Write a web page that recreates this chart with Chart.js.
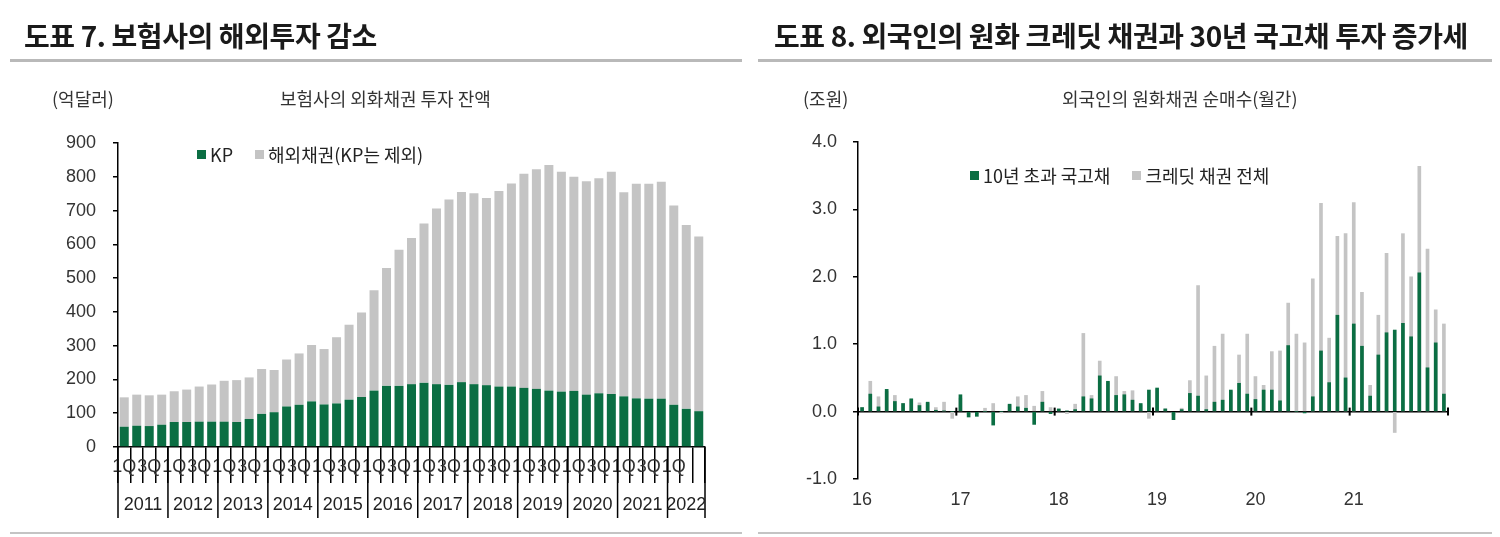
<!DOCTYPE html>
<html><head><meta charset="utf-8">
<script src="https://cdn.jsdelivr.net/npm/chart.js@4.4.0/dist/chart.umd.min.js"></script>
<style>
html,body{margin:0;padding:0;background:#fff;}
body{width:1500px;height:537px;position:relative;overflow:hidden;font-family:'Noto Sans CJK KR',sans-serif;color:#222;}
.title{position:absolute;top:15px;font-size:28px;font-weight:700;letter-spacing:-0.4px;white-space:nowrap;line-height:40px;color:#1a1a1a;z-index:2}
.hline{position:absolute;top:59px;height:3px;background:#b9b9b9;z-index:2}
.bline{position:absolute;top:532px;height:2px;background:#c4c4c4;z-index:2}
.unit,.sub{position:absolute;font-size:18px;color:#333;top:86px;line-height:24px;white-space:nowrap;z-index:2}
.legend{position:absolute;font-size:18px;color:#222;white-space:nowrap;display:flex;align-items:center;z-index:2;line-height:22px}
.sw{display:inline-block;width:9px;height:9px;margin-right:4px}
.item{display:flex;align-items:center;margin-right:22px}
.cv{position:absolute;top:0;width:750px;height:537px;z-index:1}
</style>
</head>
<body>
<div class="title" style="left:24px">도표 7. 보험사의 해외투자 감소</div>
<div class="hline" style="left:10px;width:732px"></div>
<div class="unit" style="left:52px">(억달러)</div>
<div class="sub" style="left:280px">보험사의 외화채권 투자 잔액</div>
<div class="legend" id="legL" style="left:197px;top:143px"></div>
<div class="bline" style="left:10px;width:732px"></div>

<div class="title" style="left:774px">도표 8. 외국인의 원화 크레딧 채권과 30년 국고채 투자 증가세</div>
<div class="hline" style="left:758px;width:734px"></div>
<div class="unit" style="left:803px">(조원)</div>
<div class="sub" style="left:1062px">외국인의 원화채권 순매수(월간)</div>
<div class="legend" id="legR" style="left:970px;top:164px"></div>
<div class="bline" style="left:758px;width:734px"></div>

<div class="cv" style="left:0"><canvas id="c1" width="750" height="537"></canvas></div>
<div class="cv" style="left:750px"><canvas id="c2" width="750" height="537"></canvas></div>

<script>
// ---------- Left chart data ----------
const yearLabelsL = ['2011','2012','2013','2014','2015','2016','2017','2018','2019','2020','2021','2022'];
const quartersPerYearL = [4,4,4,4,4,4,4,4,4,4,4,3];
const quarterNames = ['1Q','2Q','3Q','4Q'];
const seriesNamesL = ['KP','해외채권(KP는 제외)'];
const kpValues = [60,63,62,66, 74,74,75,75, 75,74,83,98, 103,120,125,135, 126,129,140,148, 167,181,181,186,
  190,186,184,192, 186,183,179,179, 175,172,167,164, 166,155,159,157, 150,144,143,143, 125,113,106];
const foreignBondValues = [87,92,91,89, 91,96,104,110, 121,124,123,133, 125,139,152,167, 164,196,222,250, 297,349,403,433,
  472,520,549,563, 565,554,579,601, 634,650,668,651, 634,632,637,658, 604,635,636,642, 590,544,517];
const yTicksL = {min:0, max:900, step:100};

// ---------- Right chart data ----------
const yearTicksR = ['16','17','18','19','20','21'];
const monthsPerYear = 12;
const seriesNamesR = ['10년 초과 국고채','크레딧 채권 전체'];
const govtBond10y = [
  0.06,0.26,0.07,0.33,0.15,0.12,0.19,0.09,0.14,0.02,0.01,0.00,
  0.25,-0.08,-0.07,0.00,-0.20,0.00,0.11,0.07,0.05,-0.19,0.14,-0.03,
  0.04,0.01,0.03,0.22,0.19,0.53,0.45,0.24,0.25,0.17,0.12,0.32,
  0.35,0.04,-0.12,0.03,0.27,0.23,0.03,0.14,0.17,0.32,0.42,0.26,
  0.18,0.32,0.32,0.16,0.98,0.00,-0.02,0.22,0.90,0.43,1.43,0.50,
  1.30,0.97,0.23,0.84,1.17,1.21,1.31,1.11,2.06,0.65,1.02,0.26];
const creditBondTotal = [
  0.06,0.45,0.22,0.30,0.24,0.12,0.18,0.13,0.12,0.06,0.14,-0.10,
  0.20,-0.04,-0.03,0.05,0.12,-0.02,0.10,0.22,0.24,0.08,0.30,0.06,
  0.03,-0.03,0.11,1.16,0.24,0.75,0.43,0.52,0.30,0.31,0.10,-0.10,
  0.33,0.04,-0.05,0.05,0.46,1.87,0.53,0.97,1.15,0.30,0.84,1.15,
  0.52,0.39,0.89,0.90,1.61,1.15,1.02,1.97,3.09,1.09,2.60,2.64,
  3.10,1.77,0.39,1.43,2.35,-0.31,2.64,2.00,3.64,2.41,1.51,1.30];
const yTicksR = {min:-1, max:4, step:1};

const GREEN = '#0b6e43';
const GRAY = '#c4c4c4';
const NUMFONT = "'Liberation Sans', Arial, 'Noto Sans CJK KR', sans-serif";

Chart.defaults.font.family = NUMFONT;
Chart.defaults.color = '#222';
Chart.defaults.animation = false;

// legends (HTML, real text)
function buildLegend(id, names, colors){
  const el = document.getElementById(id);
  names.forEach((n,i)=>{
    const it = document.createElement('span'); it.className='item';
    const sw = document.createElement('span'); sw.className='sw'; sw.style.background=colors[i];
    it.appendChild(sw); it.appendChild(document.createTextNode(n)); el.appendChild(it);
  });
}
buildLegend('legL', seriesNamesL, [GREEN, GRAY]);
buildLegend('legR', seriesNamesR, [GREEN, GRAY]);

// ---------- Left chart ----------
const categoriesL = [], qIdx = [], yIdx = [];
yearLabelsL.forEach((y, yi) => {
  for (let q = 0; q < quartersPerYearL[yi]; q++) { categoriesL.push(y + ' ' + quarterNames[q]); qIdx.push(q); yIdx.push(yi); }
});

const yearGroupPlugin = {
  id: 'yearGroups',
  afterDraw(chart) {
    const xs = chart.scales.x, ctx = chart.ctx;
    const n = categoriesL.length, w = (xs.right - xs.left) / n;
    const y0 = chart.chartArea.bottom;
    ctx.save();
    ctx.strokeStyle = '#000'; ctx.lineWidth = 1.5;
    ctx.fillStyle = '#222'; ctx.font = '18px ' + NUMFONT;
    ctx.textAlign = 'center'; ctx.textBaseline = 'middle';
    let start = 0;
    yearLabelsL.forEach((y, yi) => {
      const x0 = xs.left + start * w;
      const x1 = xs.left + (start + quartersPerYearL[yi]) * w;
      ctx.beginPath(); ctx.moveTo(x0, y0); ctx.lineTo(x0, y0 + 71); ctx.stroke();
      if (yi === yearLabelsL.length - 1) { ctx.beginPath(); ctx.moveTo(x1, y0); ctx.lineTo(x1, y0 + 71); ctx.stroke(); }
      ctx.fillText(y, (x0 + x1) / 2, y0 + 58);
      start += quartersPerYearL[yi];
    });
    ctx.restore();
  }
};

new Chart(document.getElementById('c1'), {
  type: 'bar',
  data: {
    labels: categoriesL,
    datasets: [
      { label: seriesNamesL[0], data: kpValues, backgroundColor: GREEN, barPercentage: 0.72, categoryPercentage: 1 },
      { label: seriesNamesL[1], data: foreignBondValues, backgroundColor: GRAY, barPercentage: 0.72, categoryPercentage: 1 }
    ]
  },
  options: {
    responsive: false,
    layout: { padding: { left: 18, right: 45, top: 143, bottom: 10 } },
    plugins: { legend: { display: false }, tooltip: { enabled: false } },
    scales: {
      x: {
        stacked: true, offset: true,
        grid: { display: true, offset: true, drawOnChartArea: false, drawTicks: true, tickLength: 36, color: '#000', lineWidth: 1.5 },
        border: { display: true, color: '#000', width: 1.5 },
        ticks: {
          autoSkip: false, maxRotation: 0, minRotation: 0, padding: -27,
          font: { size: 18 }, color: '#333',
          callback: (v, i) => {
            const q = qIdx[i]; const full = quartersPerYearL[yIdx[i]] === 4;
            return (q === 0 || (q === 2 && full)) ? quarterNames[q] : '';
          }
        },
        afterFit: s => { s.height = 80; }
      },
      y: {
        stacked: true, min: yTicksL.min, max: yTicksL.max,
        grid: { drawOnChartArea: false, drawTicks: true, tickLength: 5, color: '#000', lineWidth: 1.5 },
        border: { display: true, color: '#000', width: 1.5 },
        ticks: { stepSize: yTicksL.step, padding: 17, font: { size: 18 }, color: '#333' },
        afterFit: s => { s.width = 100; }
      }
    }
  },
  plugins: [yearGroupPlugin]
});

// ---------- Right chart ----------
const categoriesR = [];
yearTicksR.forEach(y => { for (let m = 1; m <= monthsPerYear; m++) categoriesR.push(y + '-' + String(m).padStart(2, '0')); });

const yearTickPlugin = {
  id: 'yearTicks',
  afterDraw(chart) {
    const xs = chart.scales.x, ys = chart.scales.y, ctx = chart.ctx;
    const n = categoriesR.length, w = (xs.right - xs.left) / n;
    const y0 = ys.getPixelForValue(0);
    ctx.save(); ctx.strokeStyle = '#000'; ctx.lineWidth = 2;
    for (let k = 0; k <= yearTicksR.length; k++) {
      const x = xs.left + k * monthsPerYear * w;
      ctx.beginPath(); ctx.moveTo(x, y0 - 4); ctx.lineTo(x, y0 + 4); ctx.stroke();
    }
    ctx.restore();
  }
};

new Chart(document.getElementById('c2'), {
  type: 'bar',
  data: {
    labels: categoriesR,
    datasets: [
      { label: seriesNamesR[0], data: govtBond10y, backgroundColor: GREEN, barThickness: 3, grouped: false, order: 0 },
      { label: seriesNamesR[1], data: creditBondTotal, backgroundColor: GRAY, barThickness: 3, grouped: false, order: 1 }
    ]
  },
  options: {
    responsive: false,
    layout: { padding: { left: 8, right: 52, top: 142, bottom: 10 } },
    plugins: { legend: { display: false }, tooltip: { enabled: false } },
    scales: {
      x: {
        offset: true,
        grid: { display: false, drawTicks: false },
        border: { display: false },
        ticks: {
          autoSkip: false, maxRotation: 0, minRotation: 0, padding: 10,
          font: { size: 18 }, color: '#333',
          callback: (v, i) => (i % monthsPerYear === 0) ? yearTicksR[i / monthsPerYear] : ''
        },
        afterFit: s => { s.height = 48; }
      },
      y: {
        min: yTicksR.min, max: yTicksR.max,
        grid: {
          drawOnChartArea: true, drawTicks: true, tickLength: 5, lineWidth: 1.5,
          color: c => (c.tick && c.tick.value === 0) ? '#000' : 'rgba(0,0,0,0)',
          tickColor: '#000'
        },
        border: { display: true, color: '#000', width: 1.5 },
        ticks: { stepSize: yTicksR.step, padding: 16, font: { size: 18 }, color: '#333', callback: v => Number(v).toFixed(1) },
        afterFit: s => { s.width = 100; }
      }
    }
  },
  plugins: [yearTickPlugin]
});
</script>
</body></html>
